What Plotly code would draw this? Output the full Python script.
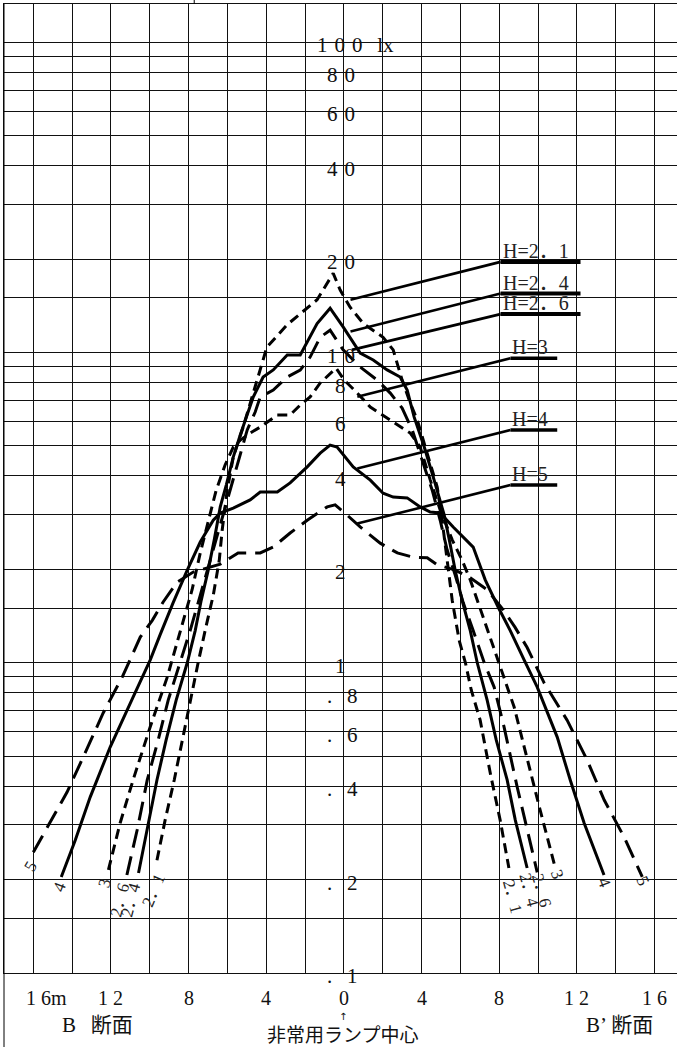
import math
import plotly.graph_objects as go

# illuminance (lx) vs distance from the emergency lamp centre (m), one curve per mounting height H
h21_x = [-9.63, -9.21, -8.74, -8.33, -7.92, -7.51, -7.09, -6.73, -6.42, -6.27, -6.01, -5.70, -5.19,
         -4.48, -3.97, -2.92, -1.38, -0.55, -0.19, 0.32, 1.00, 2.02, 2.54, 3.00, 3.42, 3.78, 4.29,
         4.81, 5.06, 5.32, 5.58, 5.94, 6.26, 6.56, 7.02, 7.54, 8.05, 8.50]
h21_y = [0.231, 0.311, 0.419, 0.563, 0.741, 1.00, 1.32, 1.65, 2.14, 2.68, 3.60, 4.60, 5.75,
         8.15, 10.4, 12.3, 14.8, 18.0, 15.9, 14.0, 12.4, 11.2, 10.2, 8.15, 6.87, 6.06, 4.74,
         3.68, 2.88, 2.14, 1.59, 1.18, 1.00, 0.817, 0.653, 0.441, 0.311, 0.218]

h24_x = [-10.58, -10.13, -9.63, -9.16, -8.64, -8.07, -7.66, -7.35, -6.99, -6.68, -6.37, -6.06,
         -5.70, -5.34, -4.98, -4.67, -4.16, -3.64, -2.92, -2.25, -1.38, -0.71, -0.04, 0.84, 1.51,
         2.23, 2.90, 3.26, 3.62, 4.14, 4.65, 5.17, 5.48, 5.73, 6.09, 6.51, 6.87, 7.38, 7.85,
         8.41, 8.83, 9.44]
h24_y = [0.210, 0.289, 0.419, 0.563, 0.758, 1.00, 1.27, 1.59, 1.99, 2.49, 3.18, 3.74,
         4.60, 5.42, 6.29, 7.19, 8.34, 8.79, 9.82, 9.82, 12.4, 13.9, 12.1, 9.96, 9.46,
         8.79, 8.34, 7.57, 6.19, 4.96, 3.88, 2.99, 2.40, 1.99, 1.59, 1.27, 1.00, 0.758, 0.563,
         0.419, 0.311, 0.218]

h26_x = [-11.18, -10.65, -10.13, -9.57, -9.05, -8.43, -7.92, -7.40, -6.89, -6.37, -5.85, -5.34,
         -4.98, -4.57, -4.31, -3.64, -2.92, -2.25, -1.74, -1.22, -0.71, -0.04, 0.84, 1.72, 2.39,
         3.00, 3.52, 4.03, 4.55, 4.96, 5.32, 5.73, 6.15, 6.66, 7.23, 7.74, 8.25, 8.93, 9.44, 9.96]
h26_y = [0.207, 0.289, 0.419, 0.563, 0.758, 1.00, 1.27, 1.65, 2.14, 2.78, 3.60, 4.67,
         5.63, 6.43, 7.19, 7.57, 8.34, 8.78, 9.67, 11.2, 11.8, 10.2, 8.98, 8.15, 7.40,
         6.62, 5.63, 4.50, 3.60, 2.88, 2.31, 1.92, 1.56, 1.27, 1.00, 0.835, 0.621, 0.397, 0.289, 0.211]

h3_x = [-12.13, -11.53, -10.86, -9.98, -9.10, -8.90, -8.28, -7.82, -7.40, -6.99, -6.58, -6.12,
        -5.70, -5.34, -4.83, -4.31, -3.80, -3.44, -2.77, -2.25, -1.74, -1.22, -0.40, 0.02, 0.69,
        1.36, 2.39, 3.42, 3.93, 4.45, 4.96, 5.58, 6.09, 6.51, 7.23, 8.05, 8.77, 9.29, 9.80,
        10.11, 10.89]
h3_y = [0.215, 0.304, 0.419, 0.621, 0.899, 0.998, 1.37, 1.72, 2.26, 2.88, 3.60, 4.34,
        4.96, 5.22, 5.50, 5.75, 6.06, 6.29, 6.29, 6.77, 7.19, 7.98, 8.91, 8.15, 7.40,
        6.67, 6.06, 5.50, 4.96, 3.88, 3.11, 2.49, 2.14, 1.85, 1.37, 0.969, 0.720, 0.535, 0.397,
        0.335, 0.218]

h4_x = [-14.56, -13.84, -13.07, -12.04, -10.86, -9.98, -9.47, -8.80, -8.07, -7.40, -6.73, -6.37,
        -5.70, -4.83, -4.31, -3.43, -2.77, -1.89, -1.22, -0.71, -0.35, 0.48, 1.36, 2.02, 2.54,
        3.26, 3.93, 4.45, 4.96, 5.63, 6.66, 7.28, 7.95, 8.57, 9.29, 9.96, 10.99, 11.66, 12.38,
        12.90, 13.40]
h4_y = [0.204, 0.268, 0.369, 0.535, 0.775, 1.02, 1.23, 1.56, 1.99, 2.45, 2.88, 3.04,
        3.15, 3.35, 3.55, 3.55, 3.80, 4.28, 4.74, 5.03, 4.96, 4.28, 3.88, 3.52, 3.42,
        3.40, 3.18, 3.06, 3.04, 2.74, 2.36, 1.85, 1.51, 1.27, 1.02, 0.835, 0.576, 0.419, 0.304,
        0.249, 0.207]

h5_x = [-16.0, -15.13, -14.26, -13.33, -12.40, -11.42, -10.49, -9.87, -9.31, -8.59, -7.76, -6.37,
        -5.45, -4.31, -3.64, -2.77, -1.89, -0.86, -0.45, 0.17, 0.84, 1.87, 2.75, 3.57, 4.29,
        4.81, 5.73, 6.51, 7.38, 8.21, 8.82, 9.44, 10.32, 11.50, 12.53, 13.41, 14.44, 15.37]
h5_y = [0.245, 0.306, 0.383, 0.512, 0.689, 0.899, 1.21, 1.37, 1.57, 1.82, 1.96, 2.08,
        2.26, 2.26, 2.36, 2.62, 2.88, 3.18, 3.23, 2.99, 2.74, 2.43, 2.26, 2.19, 2.18,
        2.07, 1.99, 1.88, 1.72, 1.48, 1.30, 1.12, 0.860, 0.653, 0.486, 0.361, 0.274, 0.204]

# leader lines to the H= labels: (curve point, bend, end of underline)
h_labels = ["H=2．1", "H=2．4", "H=2．6", "H=3", "H=4", "H=5"]
lead_x = [[0.34, 8.07, 12.19], [0.34, 8.07, 12.19], [0.41, 8.07, 12.19],
          [0.69, 8.58, 10.99], [0.69, 8.58, 10.99], [0.69, 8.58, 10.99]]
lead_y = [[14.8, 19.6, 19.6], [11.7, 15.5, 15.5], [10.2, 13.3, 13.3],
          [7.20, 9.58, 9.58], [4.23, 5.63, 5.63], [2.81, 3.74, 3.74]]

# small height labels at the curve ends
end_text = ["5", "4", "3", "2．6", "2．4", "2．1", "2．1", "2．4", "2．6", "3", "4", "5"]
end_x = [-16.16, -14.67, -12.35, -11.52, -10.95, -9.82, 8.67, 9.55, 10.17, 10.99, 13.41, 15.37]
end_y = [0.221, 0.189, 0.195, 0.172, 0.172, 0.185, 0.176, 0.185, 0.184, 0.208, 0.196, 0.198]
end_angle = [-60, -70, -74, -75, -75, -67, 75, 75, 75, 70, 69, 66]

# axis labelling
y_lab_vals = [100, 80, 60, 40, 20, 10, 8, 6, 4, 2, 1, 0.8, 0.6, 0.4, 0.2, 0.1]
y_lab_text = ["1\u20040\u20040\u2002\u2009lx", "8\u20040", "6\u20040", "4\u20040", "2\u20040",
              "1\u20040", "8", "6", "4", "2", "1", ".\u2002\u20098", ".\u2002\u20096",
              ".\u2002\u20094", ".\u2002\u20092", ".\u2002\u20091"]
x_lab_vals = [-16, -12, -8, -4, 0, 4, 8, 12, 16]
x_lab_text = ["1 6m", "1 2", "8", "4", "0", "4", "8", "1 2", "1 6"]

grid_x = list(range(-16, 17, 2))
mantissa = [1, 1.5, 2, 3, 4, 5, 6, 7, 8, 9]
grid_y = [m * d for d in (0.1, 1, 10) for m in mantissa] + [100]

SERIF = "Liberation Serif, Noto Sans CJK JP, serif"
SHORT = "10px,6px"
LONG = "19px,9px"

curves = [(h21_x, h21_y, SHORT), (h24_x, h24_y, "solid"), (h26_x, h26_y, LONG),
          (h3_x, h3_y, SHORT), (h4_x, h4_y, "solid"), (h5_x, h5_y, LONG)]

fig = go.Figure()
for cx, cy, dash in curves:
    fig.add_trace(go.Scatter(x=cx, y=cy, mode='lines',
                             line=dict(color='black', width=3, dash=dash)))

for i, lab in enumerate(h_labels):
    fig.add_trace(go.Scatter(x=lead_x[i][:2], y=lead_y[i][:2], mode='lines',
                             line=dict(color='black', width=2.6)))
    fig.add_trace(go.Scatter(x=lead_x[i][1:], y=lead_y[i][1:], mode='lines',
                             line=dict(color='black', width=4 if i < 3 else 3.4)))
    fig.add_annotation(x=lead_x[i][1], y=math.log10(lead_y[i][1]),
                       text=lab, showarrow=False, xanchor='left', yanchor='bottom',
                       xshift=0, yshift=-2,
                       font=dict(family=SERIF, size=20, color='#222'))

for t, x, y, a in zip(end_text, end_x, end_y, end_angle):
    fig.add_annotation(x=x, y=math.log10(y), text=t, showarrow=False, textangle=a,
                       font=dict(family=SERIF, size=17, color='#222'))

for v, t in zip(y_lab_vals, y_lab_text):
    if t.startswith("1\u20040\u20040"):
        xa, xs = 'left', -29
    elif t.startswith("."):
        xa, xs = 'left', -19
    else:
        xa, xs = 'center', -3
    fig.add_annotation(x=0, y=math.log10(v), text=t, showarrow=False, xanchor=xa, xshift=xs,
                       yanchor='middle', yshift=-3, font=dict(family=SERIF, size=21, color='#111'))

for v, t in zip(x_lab_vals, x_lab_text):
    if t.endswith("m"):
        xa, xs = 'left', -9
    else:
        xa, xs = 'center', 0
    fig.add_annotation(x=v, y=0, yref='paper', text=t, showarrow=False, xanchor=xa, xshift=xs,
                       yanchor='middle', yshift=-25,
                       font=dict(family=SERIF, size=20, color='#111'))

fig.add_annotation(x=-14.62, y=0, yref='paper', text="B\u2002\u2009断面", showarrow=False,
                   xanchor='left', yanchor='middle', yshift=-52,
                   font=dict(family=SERIF, size=21, color='#111'))
fig.add_annotation(x=12.38, y=0, yref='paper', text="B’\u2009断面", showarrow=False,
                   xanchor='left', yanchor='middle', yshift=-52,
                   font=dict(family=SERIF, size=21, color='#111'))
fig.add_annotation(x=0, y=0, yref='paper', text="非常用ランプ中心", showarrow=False,
                   xshift=-1, yanchor='middle', yshift=-60,
                   font=dict(family="Noto Sans CJK JP", size=19, color='#111'))
fig.add_annotation(x=0, y=0, yref='paper', text="↑", showarrow=False,
                   xshift=-1, yanchor='middle', yshift=-43,
                   font=dict(family="DejaVu Sans", size=10, color='#111'))

# frame pieces outside the plot area
fig.add_shape(type='line', xref='paper', yref='paper', x0=0, x1=0, y0=-0.08, y1=1,
              line=dict(color='black', width=1))
fig.add_shape(type='line', xref='x', yref='paper', x0=-7.71, x1=-7.71, y0=1, y1=1.005,
              line=dict(color='black', width=1))

fig.update_layout(
    width=677, height=1047,
    margin=dict(l=4, r=0, t=4, b=74),
    plot_bgcolor='white', paper_bgcolor='white',
    showlegend=False,
    xaxis=dict(range=[-17.51, 17.16], tickvals=grid_x, showticklabels=False, ticks='',
               showgrid=True, gridcolor='#111', gridwidth=1, zeroline=False,
               showline=True, linecolor='#111', linewidth=1, mirror=True),
    yaxis=dict(type='log', range=[-1, 2.1235], tickvals=grid_y, showticklabels=False, ticks='',
               showgrid=True, gridcolor='#111', gridwidth=1, zeroline=False,
               showline=True, linecolor='#111', linewidth=1),
)

fig.write_html("out.html", config={'displayModeBar': False},
               post_script="document.body.style.margin='0';document.body.style.overflow='hidden';")
